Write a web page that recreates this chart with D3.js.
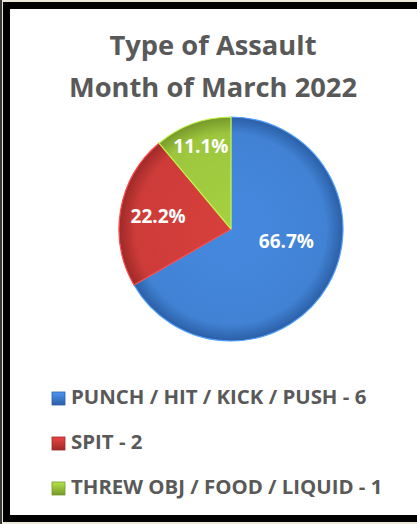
<!DOCTYPE html>
<html>
<head>
<meta charset="utf-8">
<script src="https://cdn.jsdelivr.net/npm/d3@7"></script>
<style>
  html, body { margin: 0; padding: 0; background: #ece9d8; }
  svg { display: block; }
</style>
</head>
<body>
<svg id="chart" width="417" height="524"></svg>
<script>
// chart data
var categories = ["PUNCH / HIT / KICK / PUSH", "SPIT", "THREW OBJ / FOOD / LIQUID"];
var counts = [6, 2, 1];
var titleLines = ["Type of Assault", "Month of March 2022"];

var colors = ["#4182d4", "#cd3c39", "#9dc63e"];
var darks = ["#2b5fa6", "#9e2a28", "#76982a"];

var font = "'Open Sans', Lato, sans-serif";

var svg = d3.select("#chart"),
    width = +svg.attr("width"),
    height = +svg.attr("height");

// frame
svg.append("rect").attr("x", 0).attr("y", 0).attr("width", 2).attr("height", height).attr("fill", "#3a3a3a");
svg.append("rect")
    .attr("x", 6.5).attr("y", 5.5)
    .attr("width", width + 10).attr("height", height - 11)
    .attr("fill", "#fff")
    .attr("stroke", "#000")
    .attr("stroke-width", 7);

var defs = svg.append("defs");
colors.forEach(function(c, i) {
    var g = defs.append("radialGradient").attr("id", "grad" + i)
        .attr("gradientUnits", "userSpaceOnUse")
        .attr("cx", 0).attr("cy", 0).attr("r", 112);
    g.append("stop").attr("offset", "0%").attr("stop-color", d3.color(c).brighter(0.15));
    g.append("stop").attr("offset", "85%").attr("stop-color", c);
    g.append("stop").attr("offset", "100%").attr("stop-color", darks[i]);
    var s = defs.append("linearGradient").attr("id", "sq" + i)
        .attr("x1", 0).attr("y1", 0).attr("x2", 0).attr("y2", 1);
    s.append("stop").attr("offset", "0%").attr("stop-color", d3.color(c).brighter(0.4));
    s.append("stop").attr("offset", "100%").attr("stop-color", darks[i]);
});

// title
svg.append("g").selectAll("text")
    .data(titleLines)
    .enter().append("text")
    .attr("x", 213)
    .attr("y", function(d, i) { return 55 + i * 42; })
    .attr("text-anchor", "middle")
    .attr("font-family", font)
    .attr("font-weight", "bold")
    .attr("font-size", 27.3)
    .attr("fill", "#595959")
    .text(function(d) { return d; });

// pie
var cx = 231, cy = 229, radius = 112;
var g = svg.append("g").attr("transform", "translate(" + cx + "," + cy + ")");

var total = d3.sum(counts);
var pie = d3.pie().sort(null).value(function(d) { return d; });
var arcs = pie(counts);

var path = d3.arc().outerRadius(radius).innerRadius(0);

g.selectAll(".slice")
    .data(arcs)
    .enter().append("path")
    .attr("class", "slice")
    .attr("d", path)
    .attr("fill", function(d, i) { return "url(#grad" + i + ")"; })
    .attr("stroke", function(d, i) { return d3.color(colors[i]).brighter(0.6); })
    .attr("stroke-width", 1.2)
    .attr("stroke-linejoin", "round");

// label placement (layout only)
var labelR = [64, 74, 88];
var labelShift = [[0, -20], [0, 0], [0, 0]];
var label = d3.arc();

g.selectAll(".lbl")
    .data(arcs)
    .enter().append("text")
    .attr("class", "lbl")
    .attr("transform", function(d, i) {
        var c = label.innerRadius(labelR[i]).outerRadius(labelR[i]).centroid(d);
        return "translate(" + (c[0] + labelShift[i][0]) + "," + (c[1] + labelShift[i][1]) + ")";
    })
    .attr("text-anchor", "middle")
    .attr("dy", "0.36em")
    .attr("font-family", font)
    .attr("font-weight", "bold")
    .attr("font-size", 19)
    .attr("fill", "#fff")
    .text(function(d) { return (d.data / total * 100).toFixed(1) + "%"; });

// legend
var legend = svg.append("g").selectAll(".leg")
    .data(categories)
    .enter().append("g")
    .attr("class", "leg")
    .attr("transform", function(d, i) { return "translate(52," + (404 + i * 45) + ")"; });

legend.append("rect")
    .attr("x", 0).attr("y", -12)
    .attr("width", 13).attr("height", 13)
    .attr("fill", function(d, i) { return "url(#sq" + i + ")"; })
    .attr("stroke", function(d, i) { return darks[i]; })
    .attr("stroke-width", 0.8);

legend.append("text")
    .attr("x", 19)
    .attr("y", 0)
    .attr("font-family", font)
    .attr("font-weight", "bold")
    .attr("font-size", 20.4)
    .attr("fill", "#595959")
    .text(function(d, i) { return d + " - " + counts[i]; });
</script>
</body>
</html>
